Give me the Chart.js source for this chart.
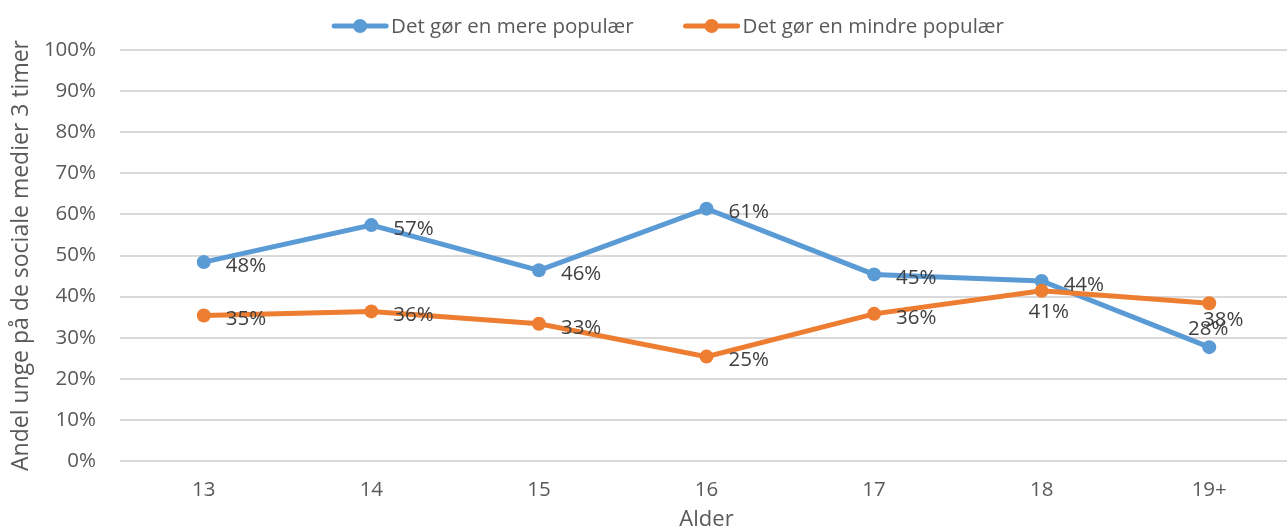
<!DOCTYPE html>
<html>
<head>
<meta charset="utf-8">
<script src="https://cdn.jsdelivr.net/npm/chart.js@4"></script>
<style>
  html, body { margin: 0; padding: 0; overflow: hidden; background: #fff; }
  #wrap { width: 1300px; height: 545px; position: relative; }
</style>
</head>
<body>
<div id="wrap"><canvas id="c"></canvas></div>
<script>
// ---- data ----
const categories = ['13', '14', '15', '16', '17', '18', '19+'];
const seriesNames = ['Det gør en mere populær', 'Det gør en mindre populær'];
const moreValues = [48.4, 57.4, 46.4, 61.4, 45.4, 43.8, 27.7];
const lessValues = [35.4, 36.4, 33.4, 25.4, 35.8, 41.4, 38.4];
const yTicks = [0, 10, 20, 30, 40, 50, 60, 70, 80, 90, 100];
const axisTitleY = 'Andel unge på de sociale medier 3 timer';
const axisTitleX = 'Alder';

// ---- styles ----
const BLUE = '#5b9bd5';
const ORANGE = '#ed7d31';
const TEXT = '#595959';
const LABEL = '#404040';
const FONT = '"Open Sans", "Liberation Sans", sans-serif';
const FS = 20.5;

// label placement per point (style config)
const moreLabelPos = ['right', 'right', 'right', 'right', 'right', 'right', 'above'];
const lessLabelPos = ['right', 'right', 'right', 'right', 'right', 'below', 'belowRight'];
const posMap = {
  right:      { dx: 22, dy: 2.5, align: 'left' },
  below:      { dx: 7,  dy: 20,  align: 'center' },
  above:      { dx: -1, dy: -19, align: 'center' },
  belowRight: { dx: 14, dy: 16,  align: 'center' }
};

const dataLabels = {
  id: 'dataLabels',
  afterDatasetsDraw(chart) {
    const ctx = chart.ctx;
    ctx.save();
    ctx.font = FS + 'px ' + FONT;
    ctx.fillStyle = LABEL;
    ctx.textBaseline = 'alphabetic';
    chart.data.datasets.forEach((ds, di) => {
      const meta = chart.getDatasetMeta(di);
      meta.data.forEach((pt, i) => {
        const p = posMap[ds.labelPos[i]];
        ctx.textAlign = p.align;
        const capHalf = 0.714 * FS / 2;
        ctx.fillText(Math.round(ds.data[i]) + '%', pt.x + p.dx, pt.y + p.dy + capHalf);
      });
    });
    ctx.restore();
  }
};

const customLegend = {
  id: 'customLegend',
  afterDraw(chart) {
    const ctx = chart.ctx;
    ctx.save();
    ctx.font = FS + 'px ' + FONT;
    const lineLen = 56, gapText = 3, gapItem = 50, y = 26;
    const items = chart.data.datasets.map(ds => ({
      text: ds.label, color: ds.borderColor, w: lineLen + gapText + ctx.measureText(ds.label).width
    }));
    const total = items.reduce((s, it) => s + it.w, 0) + gapItem * (items.length - 1);
    const center = 668;
    let x = center - total / 2;
    items.forEach(it => {
      ctx.strokeStyle = it.color;
      ctx.lineWidth = 5;
      ctx.lineCap = 'round';
      ctx.beginPath();
      ctx.moveTo(x + 2, y);
      ctx.lineTo(x + lineLen - 2, y);
      ctx.stroke();
      ctx.fillStyle = it.color;
      ctx.beginPath();
      ctx.arc(x + lineLen / 2, y, 7, 0, Math.PI * 2);
      ctx.fill();
      ctx.fillStyle = TEXT;
      ctx.textAlign = 'left';
      ctx.textBaseline = 'middle';
      ctx.fillText(it.text, x + lineLen + gapText, y + 1);
      x += it.w + gapItem;
    });
    ctx.restore();
  }
};

new Chart(document.getElementById('c'), {
  type: 'line',
  data: {
    labels: categories,
    datasets: [
      {
        label: seriesNames[0], data: moreValues, labelPos: moreLabelPos,
        borderColor: BLUE, backgroundColor: BLUE, borderWidth: 5,
        pointRadius: 7, pointBackgroundColor: BLUE, pointBorderWidth: 0,
        tension: 0, order: 1
      },
      {
        label: seriesNames[1], data: lessValues, labelPos: lessLabelPos,
        borderColor: ORANGE, backgroundColor: ORANGE, borderWidth: 5,
        pointRadius: 7, pointBackgroundColor: ORANGE, pointBorderWidth: 0,
        tension: 0, order: 0
      }
    ]
  },
  options: {
    responsive: true,
    maintainAspectRatio: false,
    animation: false,
    layout: { padding: { top: 50, right: 4, left: 0, bottom: 0 } },
    plugins: { legend: { display: false }, tooltip: { enabled: false } },
    scales: {
      x: {
        offset: true,
        grid: { display: false, drawTicks: false },
        border: { display: false },
        ticks: { color: TEXT, font: { family: FONT, size: FS }, padding: 17, maxRotation: 0 },
        title: { display: true, text: axisTitleX, color: TEXT, font: { family: FONT, size: FS + 1.5 }, padding: { top: 4, bottom: 12 } },
        afterFit(scale) { scale.height = 84; }
      },
      y: {
        min: yTicks[0], max: yTicks[yTicks.length - 1],
        afterBuildTicks(scale) { scale.ticks = yTicks.map(v => ({ value: v })); },
        grid: { color: '#d9d9d9', lineWidth: 2, drawTicks: false },
        border: { display: false },
        ticks: { color: TEXT, font: { family: FONT, size: FS }, padding: 24, callback: v => v + '%' },
        title: { display: true, text: axisTitleY, color: TEXT, font: { family: FONT, size: FS + 2.5 }, padding: { top: 8, bottom: 4 } },
        afterFit(scale) { scale.width = 120; }
      }
    }
  },
  plugins: [dataLabels, customLegend]
});
</script>
</body>
</html>
